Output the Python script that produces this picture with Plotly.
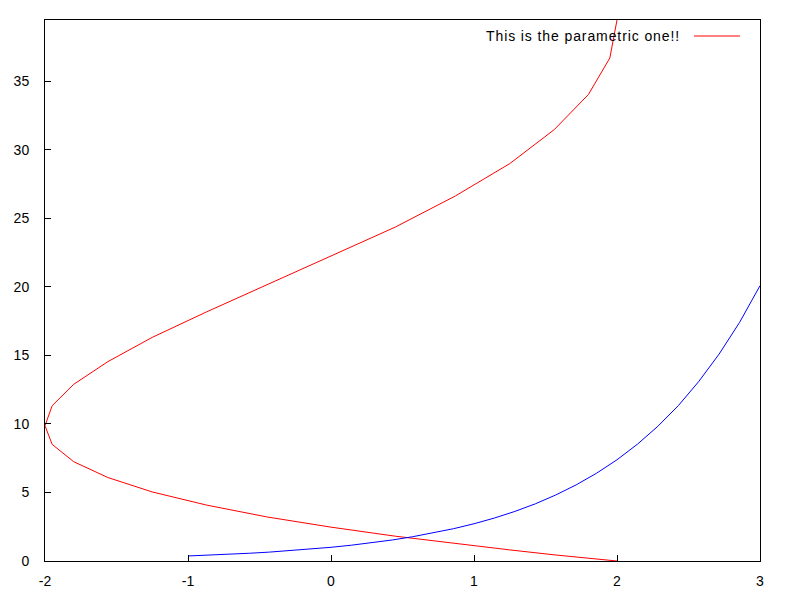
import plotly.graph_objects as go

# Parametric curve (red) points
red_x = [2.00, 1.95, 1.80, 1.56, 1.25, 0.87, 0.45, 0.00, -0.45, -0.87, -1.25, -1.56, -1.80, -1.95,
         -2.00, -1.95, -1.80, -1.56, -1.25, -0.87, -0.45, 0.00, 0.45, 0.87, 1.25, 1.56, 1.80, 1.95, 2.00]
red_y = [0.00, 0.05, 0.20, 0.45, 0.81, 1.26, 1.81, 2.47, 3.22, 4.08, 5.04, 6.09, 7.25, 8.51,
         9.87, 11.33, 12.89, 14.55, 16.32, 18.18, 20.14, 22.21, 24.37, 26.64, 29.00, 31.47, 34.04, 36.71, 39.48]

# Blue curve points
blue_x = [-1.000, -0.857, -0.714, -0.571, -0.429, -0.286, -0.143, 0.000, 0.143, 0.286, 0.429, 0.571,
          0.714, 0.857, 1.000, 1.143, 1.286, 1.429, 1.571, 1.714, 1.857, 2.000, 2.143, 2.286, 2.429,
          2.571, 2.714, 2.857, 3.000]
blue_y = [0.368, 0.424, 0.490, 0.565, 0.651, 0.751, 0.867, 1.000, 1.154, 1.331, 1.535, 1.771,
          2.043, 2.357, 2.718, 3.136, 3.618, 4.173, 4.814, 5.553, 6.406, 7.389, 8.524, 9.834, 11.34,
          13.09, 15.10, 17.41, 20.09]

legend_label = "This is the parametric one!!"
x_ticks = [-2, -1, 0, 1, 2, 3]
x_tick_labels = ["-2", "-1", "0", "1", "2", "3"]
y_ticks = [0, 5, 10, 15, 20, 25, 30, 35]
y_tick_labels = ["0", "5", "10", "15", "20", "25", "30", "35"]

fig = go.Figure()
fig.add_trace(go.Scatter(x=red_x, y=red_y, mode="lines", line=dict(color="#ff0000", width=1),
                         name=legend_label, showlegend=False))
fig.add_trace(go.Scatter(x=blue_x, y=blue_y, mode="lines", line=dict(color="#0000ff", width=1),
                         showlegend=False))

font = dict(family="Liberation Sans, Arial, sans-serif", size=14, color="#000000")

fig.update_layout(
    width=784, height=584,
    margin=dict(l=37, r=32, t=12, b=31),
    paper_bgcolor="white", plot_bgcolor="white",
    font=font,
    showlegend=False,
    xaxis=dict(range=[-2, 3], tickvals=x_ticks, ticktext=x_tick_labels, ticks="inside", ticklen=6,
               tickcolor="black", showgrid=False, zeroline=False, showline=True, linecolor="black",
               linewidth=1, mirror=True, tickfont=font, ticklabelstandoff=7, automargin=False),
    yaxis=dict(range=[0, 39.48], tickvals=y_ticks, ticktext=y_tick_labels, ticks="inside", ticklen=6,
               tickcolor="black", showgrid=False, zeroline=False, showline=True, linecolor="black",
               linewidth=1, mirror=True, tickfont=font, ticklabelstandoff=12, automargin=False),
)

# gnuplot-style key: text on the left, line sample on the right
fig.add_annotation(xref="paper", yref="paper", x=0.891, y=0.9704,
                   text='<span style="letter-spacing:0.9px">' + legend_label + '</span>',
                   showarrow=False, xanchor="right", yanchor="middle", font=font)
fig.add_shape(type="line", xref="paper", yref="paper", x0=0.9077, x1=0.972, y0=0.9704, y1=0.9704,
              line=dict(color="#ff0000", width=1))

fig.write_html("out.html")
